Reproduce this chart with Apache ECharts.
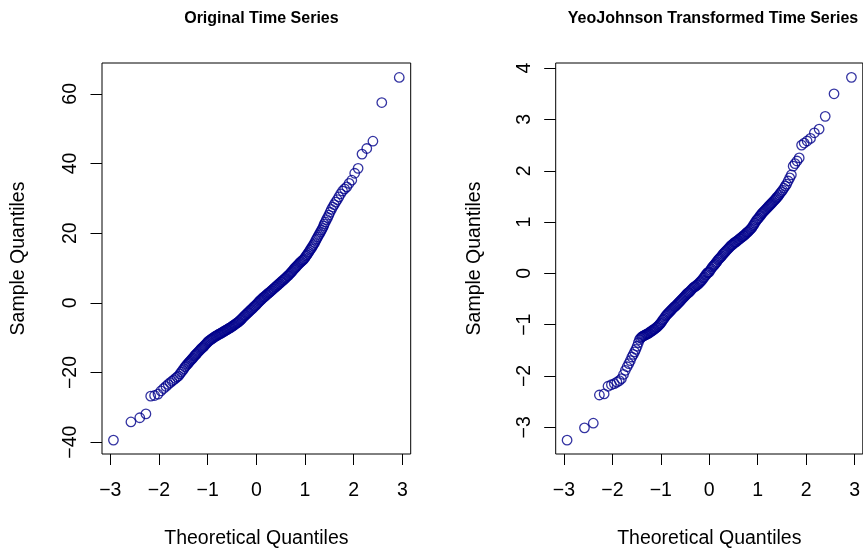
<!DOCTYPE html>
<html>
<head>
<meta charset="utf-8">
<script src="https://cdn.jsdelivr.net/npm/echarts@6/dist/echarts.min.js"></script>
<style>
html,body{margin:0;padding:0;background:#fff;}
#chart{width:863px;height:554px;}
</style>
</head>
<body>
<div id="chart"></div>
<script>
// Theoretical quantiles (x positions of points)
const theoQ = [
-2.935,-2.576,-2.394,-2.268,-2.170,-2.090,-2.020,-1.960,-1.906,-1.857,-1.812,-1.770,-1.732,-1.695,-1.661,-1.629,-1.598,-1.569,-1.541,-1.514,-1.489,-1.464,-1.440,-1.417,-1.394,
-1.38,-1.36,-1.34,-1.32,-1.30,-1.28,-1.26,-1.24,-1.22,-1.20,
-1.18,-1.16,-1.14,-1.12,-1.10,-1.08,-1.06,-1.04,-1.02,-1.00,
-0.98,-0.96,-0.94,-0.92,-0.90,-0.88,-0.86,-0.84,-0.82,-0.80,
-0.78,-0.76,-0.74,-0.72,-0.70,-0.68,-0.66,-0.64,-0.62,-0.60,
-0.58,-0.56,-0.54,-0.52,-0.50,-0.48,-0.46,-0.44,-0.42,-0.40,
-0.38,-0.36,-0.34,-0.32,-0.30,-0.28,-0.26,-0.24,-0.22,-0.20,
-0.18,-0.16,-0.14,-0.12,-0.10,-0.08,-0.06,-0.04,-0.02,0.00,
0.02,0.04,0.06,0.08,0.10,0.12,0.14,0.16,0.18,0.20,
0.22,0.24,0.26,0.28,0.30,0.32,0.34,0.36,0.38,0.40,
0.42,0.44,0.46,0.48,0.50,0.52,0.54,0.56,0.58,0.60,
0.62,0.64,0.66,0.68,0.70,0.72,0.74,0.76,0.78,0.80,
0.82,0.84,0.86,0.88,0.90,0.92,0.94,0.96,0.98,1.00,
1.02,1.04,1.06,1.08,1.10,1.12,1.14,1.16,1.18,1.20,
1.22,1.24,1.26,1.28,1.30,1.32,1.34,1.36,1.38,
1.394,1.417,1.440,1.464,1.489,1.514,1.541,1.569,1.598,1.629,1.661,1.695,1.732,1.770,1.812,1.857,1.906,1.960,2.020,2.090,2.170,2.268,2.394,2.576,2.935
];

// Sample quantiles, original series
const originalQ = [
-39.4,-34.2,-33.0,-31.9,-26.8,-26.6,-26.2,-25.3,-24.6,-24.0,-23.4,-22.9,-22.5,-22.1,-21.7,-21.3,-21.0,-20.4,-19.9,-19.4,-18.9,-18.4,-18.0,-17.6,-17.3,
-17.0,-16.7,-16.4,-16.1,-15.8,-15.4,-15.1,-14.8,-14.5,-14.2,
-13.9,-13.6,-13.3,-13.0,-12.8,-12.5,-12.2,-11.9,-11.6,-11.3,
-11.0,-10.8,-10.6,-10.4,-10.2,-10.0,-9.8,-9.6,-9.5,-9.3,
-9.1,-9.0,-8.8,-8.7,-8.5,-8.3,-8.2,-8.0,-7.8,-7.7,
-7.5,-7.3,-7.2,-7.0,-6.8,-6.6,-6.4,-6.2,-6.0,-5.8,
-5.6,-5.4,-5.1,-4.9,-4.6,-4.3,-4.0,-3.7,-3.5,-3.2,
-2.9,-2.7,-2.4,-2.1,-1.9,-1.6,-1.3,-1.0,-0.8,-0.5,
-0.2,0.1,0.4,0.7,0.9,1.2,1.5,1.7,1.9,2.2,
2.4,2.7,2.9,3.1,3.4,3.6,3.9,4.1,4.4,4.6,
4.9,5.1,5.4,5.6,5.9,6.1,6.4,6.6,6.9,7.1,
7.4,7.7,7.9,8.2,8.5,8.8,9.1,9.5,9.8,10.1,
10.4,10.7,11.0,11.3,11.6,11.8,12.1,12.3,12.6,13.0,
13.4,13.8,14.2,14.6,15.1,15.5,15.9,16.4,16.8,17.3,
17.9,18.4,18.9,19.4,19.9,20.4,20.9,21.4,22.0,
22.6,23.2,23.9,24.5,25.2,26.0,26.8,27.5,28.2,28.9,29.6,30.4,31.3,32.1,32.7,33.3,34.3,35.2,37.2,38.6,42.7,44.3,46.4,57.5,64.7
];

// Sample quantiles, Yeo-Johnson transformed series
const transformedQ = [
-3.25,-3.01,-2.92,-2.37,-2.35,-2.20,-2.17,-2.15,-2.12,-2.09,-2.05,-1.97,-1.89,-1.82,-1.76,-1.70,-1.63,-1.58,-1.53,-1.48,-1.42,-1.35,-1.29,-1.26,-1.24,
-1.23,-1.22,-1.21,-1.20,-1.19,-1.18,-1.17,-1.16,-1.14,-1.13,
-1.12,-1.10,-1.09,-1.08,-1.06,-1.05,-1.03,-1.01,-0.99,-0.97,
-0.94,-0.91,-0.89,-0.86,-0.83,-0.81,-0.79,-0.77,-0.75,-0.73,
-0.71,-0.69,-0.67,-0.65,-0.64,-0.62,-0.60,-0.58,-0.56,-0.54,
-0.52,-0.50,-0.48,-0.46,-0.44,-0.42,-0.40,-0.38,-0.37,-0.35,
-0.33,-0.31,-0.29,-0.27,-0.26,-0.25,-0.23,-0.22,-0.20,-0.18,
-0.16,-0.14,-0.12,-0.09,-0.07,-0.04,-0.02,0.01,0.02,0.03,
0.06,0.09,0.12,0.14,0.16,0.18,0.21,0.23,0.26,0.28,
0.30,0.32,0.34,0.37,0.39,0.41,0.43,0.45,0.47,0.49,
0.51,0.53,0.55,0.56,0.58,0.60,0.61,0.62,0.64,0.65,
0.67,0.68,0.70,0.71,0.73,0.74,0.76,0.78,0.80,0.81,
0.83,0.85,0.87,0.89,0.92,0.95,0.98,1.01,1.04,1.06,
1.08,1.11,1.13,1.16,1.18,1.20,1.22,1.24,1.26,1.28,
1.30,1.32,1.34,1.36,1.38,1.40,1.42,1.44,1.46,
1.48,1.50,1.53,1.56,1.59,1.62,1.66,1.70,1.74,1.80,1.86,1.92,2.09,2.14,2.19,2.25,2.50,2.54,2.58,2.63,2.74,2.81,3.06,3.50,3.82
];

const xTicks = [-3,-2,-1,0,1,2,3];
const yTicksOriginal = [-40,-20,0,20,40,60];
const yTicksTransformed = [-3,-2,-1,0,1,2,3,4];

const titles = ['Original Time Series', 'YeoJohnson Transformed Time Series'];
const xTitle = 'Theoretical Quantiles';
const yTitle = 'Sample Quantiles';

const FONT = '"Liberation Sans", Arial, Helvetica, sans-serif';
const fmt = v => (v < 0 ? '\u2212' + Math.abs(v) : String(v));
const pointColor = '#00008B';

function xAxisCfg(gi) {
  return {
    gridIndex: gi, type: 'value', min: -3.17, max: 3.17,
    axisLine: { show: false, onZero: false },
    axisTick: { show: true, length: 11, customValues: xTicks, lineStyle: { color: '#000', width: 1 } },
    axisLabel: { customValues: xTicks, formatter: fmt, margin: 27, fontSize: 19.5, color: '#000', fontFamily: FONT },
    splitLine: { show: false },
    name: xTitle, nameLocation: 'middle', nameGap: 75,
    nameTextStyle: { fontSize: 19.5, color: '#000', fontFamily: FONT }
  };
}
function yAxisCfg(gi, min, max, ticks, nameGap) {
  return {
    gridIndex: gi, type: 'value', min: min, max: max,
    axisLine: { show: false, onZero: false },
    axisTick: { show: true, length: 11.5, customValues: ticks, lineStyle: { color: '#000', width: 1 } },
    axisLabel: { customValues: ticks, formatter: fmt, rotate: 90, margin: 21, fontSize: 19.5, color: '#000', fontFamily: FONT },
    splitLine: { show: false },
    name: yTitle, nameLocation: 'middle', nameGap: nameGap,
    nameTextStyle: { fontSize: 19.5, color: '#000', fontFamily: FONT }
  };
}

const chart = echarts.init(document.getElementById('chart'), null, { renderer: 'canvas' });
chart.setOption({
  animation: false,
  backgroundColor: '#fff',
  title: [
    { text: titles[0], left: 256.4, top: 6, textAlign: 'center',
      textStyle: { fontSize: 16, fontWeight: 'bold', color: '#000', fontFamily: FONT } },
    { text: titles[1], left: 708, top: 6, textAlign: 'center',
      textStyle: { fontSize: 16, fontWeight: 'bold', color: '#000', fontFamily: FONT } }
  ],
  grid: [
    { left: 102, top: 63, width: 308.7, height: 396, show: true, borderColor: '#000', borderWidth: 1, backgroundColor: 'transparent' },
    { left: 555.7, top: 63, width: 308.7, height: 396, show: true, borderColor: '#000', borderWidth: 1, backgroundColor: 'transparent' }
  ],
  xAxis: [xAxisCfg(0), xAxisCfg(1)],
  yAxis: [
    yAxisCfg(0, -43.4, 68.85, yTicksOriginal, 73),
    yAxisCfg(1, -3.52, 4.10, yTicksTransformed, 71)
  ],
  series: [
    { type: 'scatter', xAxisIndex: 0, yAxisIndex: 0, symbol: 'circle', symbolSize: 9.5,
      itemStyle: { color: 'rgba(0,0,0,0)', borderColor: pointColor, borderWidth: 1.3 },
      data: theoQ.map((q, i) => [q, originalQ[i]]) },
    { type: 'scatter', xAxisIndex: 1, yAxisIndex: 1, symbol: 'circle', symbolSize: 9.5,
      itemStyle: { color: 'rgba(0,0,0,0)', borderColor: pointColor, borderWidth: 1.3 },
      data: theoQ.map((q, i) => [q, transformedQ[i]]) }
  ]
});
</script>
</body>
</html>
